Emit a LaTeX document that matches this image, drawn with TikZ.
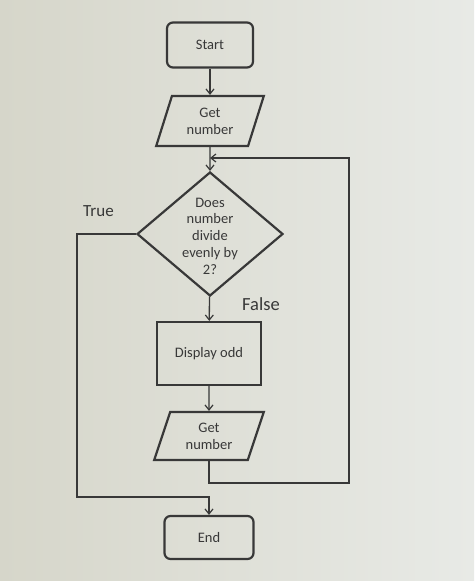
\documentclass[tikz,border=0pt]{standalone}
\usepackage{fontspec}
\setmainfont{Carlito}
\usetikzlibrary{shapes.geometric,arrows.meta}
\definecolor{ink}{HTML}{383838}
\definecolor{bgl}{HTML}{D6D6CA}
\definecolor{bgr}{HTML}{E8EAE6}
\begin{document}
\begin{tikzpicture}[x=1pt,y=-1pt,
  shapeline/.style={draw=ink,line width=2.2pt,text=ink,font=\fontsize{14.5}{17}\selectfont,align=center,inner sep=0pt},
  termbox/.style={shapeline,rectangle,rounded corners=6pt},
  procbox/.style={shapeline,rectangle},
  iobox/.style={shapeline,trapezium,trapezium left angle=70,trapezium right angle=110,trapezium stretches=true},
  decbox/.style={shapeline,diamond},
  conn/.style={draw=ink,line width=1.3pt},
  arr/.style={conn,-{Straight Barb[length=5pt,width=8pt,line width=1.2pt]}},
  lbl/.style={text=ink,inner sep=0pt}
]
\shade[left color=bgl,right color=bgr] (0,0) rectangle (474,581);
\useasboundingbox (0,0) rectangle (474,581);

\node[termbox,minimum width=86pt,minimum height=45pt] (start) at (210,45) {Start};
\node[iobox,minimum width=108pt,minimum height=50pt] (get1) at (210,121) {Get\\number};
\node[decbox,minimum width=146pt,minimum height=124pt] (dec) at (210,234) {};
\node[lbl,align=center,font=\fontsize{14.5}{16.7}\selectfont] (dectext) at (210,236) {Does\\number\\divide\\evenly by\\2?};
\node[procbox,minimum width=104pt,minimum height=63pt] (disp) at (209,353.5) {Display odd};
\node[iobox,minimum width=110pt,minimum height=48pt] (get2) at (209,436) {Get\\number};
\node[termbox,minimum width=89pt,minimum height=43pt] (end) at (209,537.5) {End};

\node[lbl,font=\fontsize{17}{20}\selectfont] (true) at (98.5,211) {True};
\node[lbl,font=\fontsize{18.5}{22}\selectfont] (false) at (261,304) {False};

\coordinate (tl) at (77,497);
\coordinate (lr) at (349,483);
\coordinate (lj) at (210,158);

\draw[arr] (start) -- (get1);
\draw[arr] (get1) -- (dec);
\draw[arr] (dec) -- (disp);
\draw[arr] (disp) -- (get2);
\draw[arr] (dec.west) -| (tl) -| (end.north);
\draw[arr] (get2.south) |- (lr) |- (lj);
\end{tikzpicture}
\end{document}
